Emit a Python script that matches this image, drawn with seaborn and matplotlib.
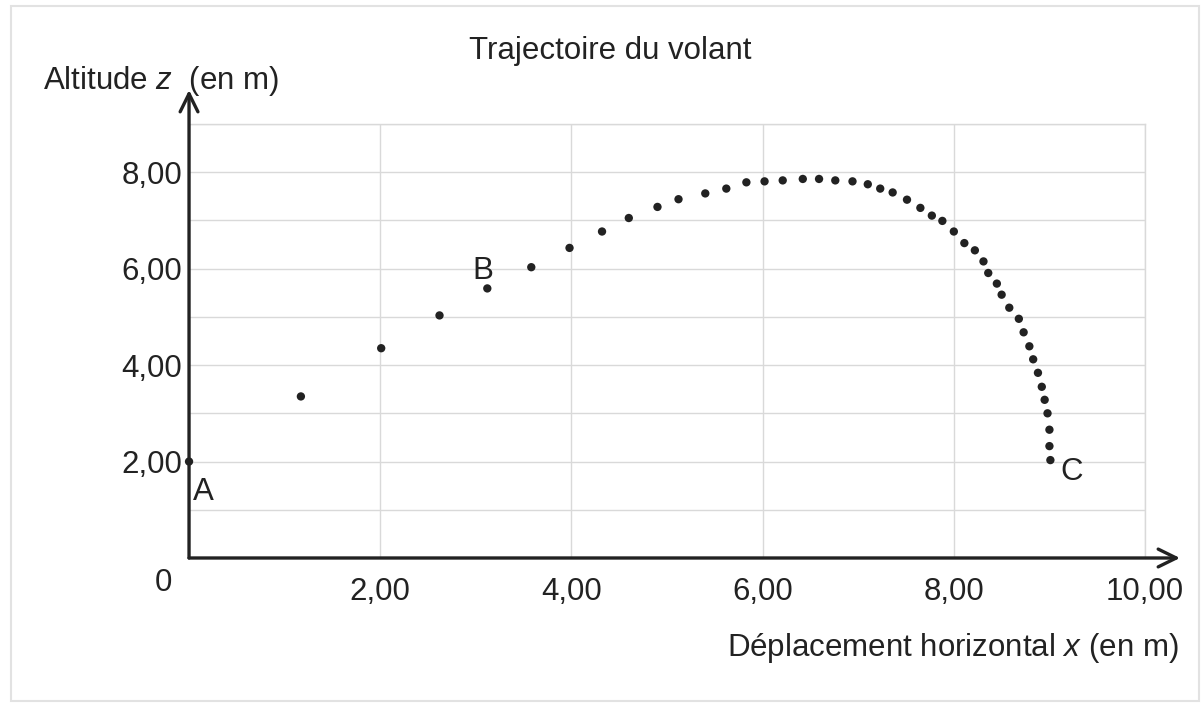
import numpy as np
import pandas as pd
import seaborn as sns
import matplotlib.pyplot as plt
from matplotlib.patches import Rectangle

# trajectory of the shuttlecock (metres)
x_m = [0.00, 1.17, 2.01, 2.62, 3.12, 3.58, 3.98, 4.32, 4.60, 4.90,
       5.12, 5.40, 5.62, 5.83, 6.02, 6.21, 6.42, 6.59, 6.76, 6.94,
       7.10, 7.23, 7.36, 7.51, 7.65, 7.77, 7.88, 8.00, 8.11, 8.22,
       8.31, 8.36, 8.45, 8.50, 8.58, 8.68, 8.73, 8.79, 8.83, 8.88,
       8.92, 8.95, 8.98, 9.00, 9.00, 9.01]
z_m = [2.00, 3.35, 4.35, 5.03, 5.59, 6.03, 6.43, 6.77, 7.05, 7.28,
       7.44, 7.56, 7.66, 7.79, 7.81, 7.83, 7.86, 7.86, 7.83, 7.81,
       7.75, 7.66, 7.58, 7.43, 7.26, 7.10, 6.99, 6.77, 6.53, 6.38,
       6.15, 5.91, 5.69, 5.46, 5.19, 4.96, 4.68, 4.39, 4.12, 3.84,
       3.55, 3.28, 3.00, 2.66, 2.32, 2.03]

x_ticks = [2, 4, 6, 8, 10]
x_tick_labels = ["2,00", "4,00", "6,00", "8,00", "10,00"]
y_ticks = [2, 4, 6, 8]
y_tick_labels = ["2,00", "4,00", "6,00", "8,00"]
point_names = ["A", "B", "C"]

INK = "#222222"
GRID = "#d9d9d9"
FS = 22.5

sns.set_theme(style="white")
plt.rcParams['font.family'] = ['Liberation Sans', 'DejaVu Sans']
plt.rcParams['mathtext.fontset'] = 'custom'
plt.rcParams['mathtext.rm'] = 'Liberation Sans'
plt.rcParams['mathtext.it'] = 'Liberation Sans:italic'

df = pd.DataFrame({'x': x_m, 'z': z_m})

fig = plt.figure(figsize=(12.01, 7.04), dpi=100)
ax = fig.add_axes([0.1574, 0.2074, 0.796, 0.6165])

sns.scatterplot(data=df, x='x', y='z', ax=ax, color=INK, s=36,
                edgecolor='none', zorder=3, clip_on=False)

ax.set_xlim(0, 10)
ax.set_ylim(0, 9)
ax.set_xticks(x_ticks)
ax.set_xticklabels(x_tick_labels)
ax.set_yticks(y_ticks)
ax.set_yticklabels(y_tick_labels)
ax.set_yticks([1, 3, 5, 7, 9], minor=True)
ax.tick_params(axis='both', which='both', length=0, labelsize=FS, colors=INK)
ax.tick_params(axis='x', pad=13.5)
ax.tick_params(axis='y', pad=5)
ax.grid(True, which='both', color=GRID, linewidth=1.0)
ax.set_xlabel("")
ax.set_ylabel("")

for side in ['left', 'bottom']:
    ax.spines[side].set_visible(False)
for side in ['top', 'right']:
    ax.spines[side].set_color(GRID)
    ax.spines[side].set_linewidth(1.0)

# axes drawn as arrows
arrow = dict(arrowstyle='->,head_length=0.65,head_width=0.32', lw=2.4,
             color=INK, shrinkA=0, shrinkB=0, mutation_scale=20)
ax.annotate('', xy=(0, 1.0 + 34 / 434), xytext=(0, 0), xycoords='axes fraction',
            arrowprops=arrow, annotation_clip=False)
ax.annotate('', xy=(1.0366, 0), xytext=(0, 0), xycoords='axes fraction',
            arrowprops=arrow, annotation_clip=False)

# origin label
ax.text(-0.0272, -0.023, "0", transform=ax.transAxes, ha='center', va='top',
        fontsize=FS, color=INK)

# point names
ax.text(0.04, 1.20, point_names[0], fontsize=FS, color=INK, ha='left', va='baseline')
ax.text(2.96, 5.79, point_names[1], fontsize=FS, color=INK, ha='left', va='baseline')
ax.text(9.11, 1.62, point_names[2], fontsize=FS, color=INK, ha='left', va='baseline')

fig.text(0.508, 0.916, "Trajectoire du volant", ha='center', va='baseline',
         fontsize=FS, color=INK)
fig.text(0.0358, 0.8736, r"Altitude $z$  (en m)", ha='left', va='baseline',
         fontsize=FS, color=INK)
fig.text(0.981, 0.0682, r"Déplacement horizontal $x$ (en m)", ha='right',
         va='baseline', fontsize=FS, color=INK)

# faint frame around the whole figure
fig.patches.append(Rectangle((11 / 1201, 3 / 704), 1188 / 1201, 695 / 704,
                             transform=fig.transFigure, fill=False,
                             edgecolor="#e2e2e2", linewidth=1.5))

fig.savefig("out.png", dpi=100)
